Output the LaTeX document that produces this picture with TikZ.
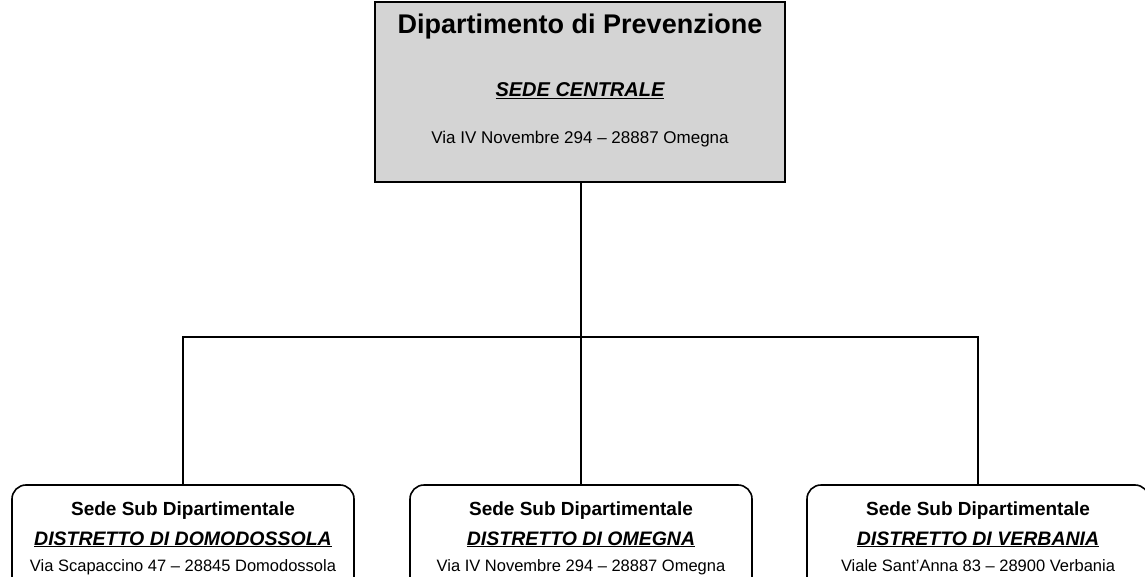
\documentclass[tikz,border=0pt]{standalone}
\usepackage{fontspec}
\setmainfont{Liberation Sans}
\begin{document}
\begin{tikzpicture}[x=1pt,y=-1pt,
  topbox/.style={draw, line width=1.6pt, fill=black!17, minimum width=410pt, minimum height=180pt, inner sep=0pt},
  subbox/.style={draw, line width=1.6pt, rounded corners=14pt, fill=white, minimum width=342pt, minimum height=120pt, inner sep=0pt},
  conn/.style={line width=1.4pt},
  txt/.style={anchor=base, inner sep=0pt}]
\useasboundingbox (0,0) rectangle (1145,577);
\begin{scope}
\clip (0,0) rectangle (1145,577);
\fill[white] (0,0) rectangle (1145,577);
% top box
\node[topbox] (top) at (580,92) {};
\node[txt, font=\bfseries\fontsize{27}{31}\selectfont] (t1) at (580,34) {Dipartimento di Prevenzione};
\node[txt, font=\bfseries\itshape\fontsize{20}{24}\selectfont] (t2) at (580,97) {\underline{SEDE CENTRALE}};
\node[txt, font=\fontsize{17}{20}\selectfont] (t3) at (580,144) {Via IV Novembre 294 -- 28887 Omegna};
% bottom boxes
\node[subbox] (l) at (183,545) {};
\node[subbox] (m) at (581,545) {};
\node[subbox] (r) at (978,545) {};
\foreach \n/\x/\d/\a in {l/183/DISTRETTO DI DOMODOSSOLA/Via Scapaccino 47 -- 28845 Domodossola,
                        m/581/DISTRETTO DI OMEGNA/Via IV Novembre 294 -- 28887 Omegna,
                        r/978/DISTRETTO DI VERBANIA/Viale Sant'Anna 83 -- 28900 Verbania}{
  \node[txt, font=\bfseries\fontsize{19}{22}\selectfont] (\n1) at (\x,515) {Sede Sub Dipartimentale};
  \node[txt, font=\bfseries\itshape\fontsize{19.5}{23}\selectfont] (\n2) at (\x,545) {\underline{\d}};
  \node[txt, font=\fontsize{16.5}{19}\selectfont] (\n3) at (\x,571) {\a};
}
% connectors
\coordinate (jc) at (581,337);
\draw[conn] (jc |- top.south) -- (jc) -- (jc |- m.north);
\draw[conn] (l.north) -- (l.north |- jc) -- (r.north |- jc) -- (r.north);
\end{scope}
\end{tikzpicture}
\end{document}
